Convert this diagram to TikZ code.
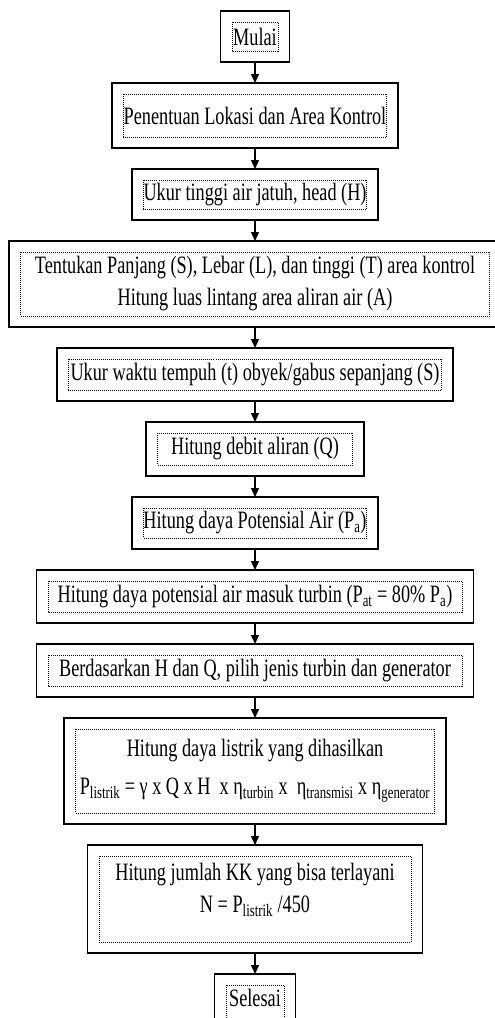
\documentclass[tikz,border=0pt]{standalone}
\usepackage{fontspec}
\setmainfont[FakeStretch=0.73]{Liberation Serif}
\usetikzlibrary{positioning,arrows.meta}

\tikzset{
	stepbox/.style={draw, line width=1.4pt, minimum width=#1, inner sep=0pt, outer sep=0pt, align=center,
		font=\fontsize{25pt}{32pt}\selectfont},
	flow/.style={line width=1.4pt, -{Triangle[length=9pt,width=8pt]}},
	dotframe/.style={line width=0.9pt, dash pattern=on 1pt off 1pt}
}

\begin{document}
\begin{tikzpicture}[node distance=21pt]
	
	\useasboundingbox (0,0) rectangle (495pt,-1018pt);
	
	\node[stepbox=69pt, minimum height=51pt, anchor=north] (mulai) at (255pt,-11pt) {Mulai};
	\node[stepbox=286pt, minimum height=65pt, below=of mulai] (lokasi) {Penentuan Lokasi dan Area Kontrol};
	\node[stepbox=246pt, minimum height=51pt, below=of lokasi] (head) {Ukur tinggi air jatuh, head (H)};
	\node[stepbox=492pt, minimum height=86pt, below=of head] (area) {Tentukan Panjang (S), Lebar (L), dan tinggi (T) area kontrol\\Hitung luas lintang area aliran air (A)};
	\node[stepbox=396pt, minimum height=53pt, below=of area] (waktu) {Ukur waktu tempuh (t) obyek/gabus sepanjang (S)};
	\node[stepbox=218pt, minimum height=54pt, below=of waktu] (debit) {Hitung debit aliran (Q)};
	\node[stepbox=246pt, minimum height=52pt, below=of debit] (potensial) {Hitung daya Potensial Air (P\textsubscript{a})};
	\node[stepbox=437pt, minimum height=53pt, below=of potensial] (masuk) {Hitung daya potensial air masuk turbin (P\textsubscript{at} = 80\% P\textsubscript{a})};
	\node[stepbox=437pt, minimum height=53pt, below=of masuk] (turbin) {Berdasarkan H dan Q, pilih jenis turbin dan generator};
	\node[stepbox=382pt, minimum height=106pt, below=of turbin] (listrik) {Hitung daya listrik yang dihasilkan\\[6pt]P\textsubscript{listrik} = γ x Q x H \ x η\textsubscript{turbin} x \ η\textsubscript{transmisi} x η\textsubscript{generator}};
	\node[stepbox=335pt, minimum height=108pt, below=of listrik] (kk) {Hitung jumlah KK yang bisa terlayani\\N = P\textsubscript{listrik} /450\\[-10pt]\mbox{}};
	\node[stepbox=81pt, minimum height=60pt, text depth=12pt, below=of kk] (selesai) {Selesai};
	
	\draw[flow] (mulai) -- (lokasi);
	\draw[flow] (lokasi) -- (head);
	\draw[flow] (head) -- (area);
	\draw[flow] (area) -- (waktu);
	\draw[flow] (waktu) -- (debit);
	\draw[flow] (debit) -- (potensial);
	\draw[flow] (potensial) -- (masuk);
	\draw[flow] (masuk) -- (turbin);
	\draw[flow] (turbin) -- (listrik);
	\draw[flow] (listrik) -- (kk);
	\draw[flow] (kk) -- (selesai);
	
	% dotted text frames inside the boxes
	\foreach \n in {mulai,lokasi,head,area,waktu,debit,potensial,masuk,turbin,listrik,kk,selesai}
		\draw[dotframe] ([shift={(11.5pt,-11pt)}]\n.north west) rectangle ([shift={(-11.5pt,11pt)}]\n.south east);
	
\end{tikzpicture}
\end{document}
